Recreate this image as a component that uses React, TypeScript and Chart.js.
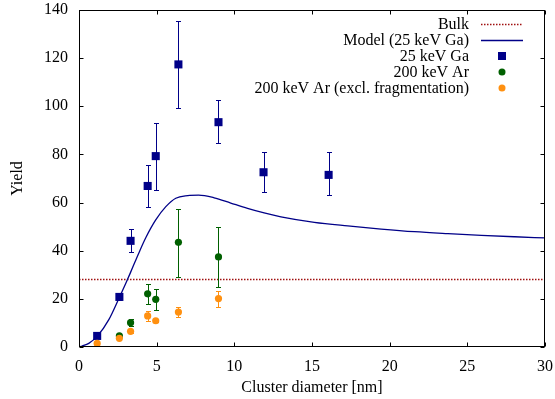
import React, { useEffect, useRef } from "react";
import { Chart, registerables } from "chart.js";

Chart.register(...registerables);

const xTicks = [0, 5, 10, 15, 20, 25, 30];
const yTicks = [0, 20, 40, 60, 80, 100, 120, 140];

const bulkLevel = 28;

const modelX = [0, 0.2, 0.63, 1.19, 1.93, 2.59, 3.0, 3.32, 3.86, 4.29, 4.94, 5.59, 6.23, 7.0, 7.7, 8.7, 9.77, 10.85, 11.92, 13.0, 15.15, 17.3, 19.45, 21.6, 23.75, 25.9, 28.05, 30];
const modelY = [0, 0.4, 1.5, 4.6, 11.5, 20.5, 26.3, 31.0, 39.2, 45.3, 52.8, 58.3, 61.8, 62.9, 63.1, 62.0, 59.8, 57.6, 55.7, 54.1, 51.8, 50.3, 49.0, 47.9, 47.1, 46.4, 45.8, 45.3];

const gaX = [1.17, 2.6, 3.32, 4.42, 4.94, 6.4, 8.98, 11.88, 16.07];
const gaY = [4.6, 20.8, 44.1, 66.9, 79.3, 117.4, 93.4, 72.6, 71.5];
const gaLo = [4.6, 19.5, 39.3, 58.2, 65.4, 99.2, 84.6, 64.2, 63.0];
const gaHi = [4.6, 22.2, 49.1, 75.5, 93.1, 135.4, 102.6, 81.0, 81.0];

const arX = [2.6, 3.32, 4.42, 4.94, 6.4, 8.98];
const arY = [4.6, 10.1, 22.1, 19.8, 43.5, 37.4];
const arLo = [4.0, 8.6, 17.9, 15.2, 29.2, 24.8];
const arHi = [5.2, 11.6, 26.3, 24.1, 57.4, 49.9];

const exX = [1.17, 2.6, 3.32, 4.42, 4.94, 6.4, 8.98];
const exY = [1.5, 3.6, 6.5, 12.9, 10.9, 14.5, 20.1];
const exLo = [1.0, 3.0, 5.8, 11.0, 10.2, 12.3, 16.7];
const exHi = [2.0, 4.2, 7.2, 14.8, 11.6, 16.7, 23.4];

const labels = ["Bulk", "Model (25 keV Ga)", "25 keV Ga", "200 keV Ar", "200 keV Ar (excl. fragmentation)"];

const C_BULK = "#a01010";
const C_GA = "#000088";
const C_AR = "#006000";
const C_EX = "#ff9010";

const FONT = "'Liberation Serif', 'DejaVu Serif', serif";
const FS = 16;

const pts = (xs: number[], ys: number[]) => xs.map((x, i) => ({ x, y: ys[i] }));

const errorSets: Record<number, { x: number[]; lo: number[]; hi: number[]; color: string }> = {
  2: { x: gaX, lo: gaLo, hi: gaHi, color: C_GA },
  3: { x: arX, lo: arLo, hi: arHi, color: C_AR },
  4: { x: exX, lo: exLo, hi: exHi, color: C_EX },
};

const errorBarPlugin = {
  id: "errorBars",
  beforeDatasetDraw(chart: any, args: any) {
    const e = errorSets[args.index];
    if (!e) return;
    const { ctx, scales } = chart;
    const xs = scales.x;
    const ys = scales.y;
    ctx.save();
    ctx.strokeStyle = e.color;
    ctx.lineWidth = 1;
    e.x.forEach((xv, i) => {
      if (e.hi[i] - e.lo[i] < 0.01) return;
      const px = Math.round(xs.getPixelForValue(xv)) + 0.5;
      const y1 = Math.round(ys.getPixelForValue(e.lo[i])) + 0.5;
      const y2 = Math.round(ys.getPixelForValue(e.hi[i])) + 0.5;
      ctx.beginPath();
      ctx.moveTo(px, y1);
      ctx.lineTo(px, y2);
      ctx.moveTo(px - 2.5, y1);
      ctx.lineTo(px + 2.5, y1);
      ctx.moveTo(px - 2.5, y2);
      ctx.lineTo(px + 2.5, y2);
      ctx.stroke();
    });
    ctx.restore();
  },
};

const framePlugin = {
  id: "frame",
  afterDraw(chart: any) {
    const { ctx, chartArea: a, scales } = chart;
    const L = Math.round(a.left) + 0.5;
    const R = Math.round(a.right) - 0.5;
    const T = Math.round(a.top) + 0.5;
    const B = Math.round(a.bottom) - 0.5;
    ctx.save();
    ctx.strokeStyle = "#000";
    ctx.lineWidth = 1;
    ctx.strokeRect(L, T, R - L, B - T);
    const tl = 4;
    ctx.beginPath();
    xTicks.forEach((v) => {
      const px = Math.round(scales.x.getPixelForValue(v)) + 0.5;
      ctx.moveTo(px, B);
      ctx.lineTo(px, B - tl);
      ctx.moveTo(px, T);
      ctx.lineTo(px, T + tl);
    });
    yTicks.forEach((v) => {
      const py = Math.round(scales.y.getPixelForValue(v)) + 0.5;
      ctx.moveTo(L, py);
      ctx.lineTo(L + tl, py);
      ctx.moveTo(R, py);
      ctx.lineTo(R - tl, py);
    });
    ctx.stroke();

    // legend
    const ds = chart.data.datasets;
    const textRight = 469;
    const sampleL = 481;
    const sampleR = 523;
    const symX = 502;
    const y0 = 24;
    const dy = 16;
    ctx.font = `${FS}px ${FONT}`;
    ctx.textAlign = "right";
    ctx.textBaseline = "middle";
    labels.forEach((lab, i) => {
      const y = y0 + i * dy;
      ctx.fillStyle = "#000";
      ctx.fillText(lab, textRight, y + 1);
      const d = ds[i];
      if (i < 2) {
        ctx.save();
        ctx.strokeStyle = d.borderColor;
        ctx.lineWidth = d.borderWidth;
        ctx.setLineDash(d.borderDash || []);
        ctx.beginPath();
        ctx.moveTo(sampleL, y + 0.5);
        ctx.lineTo(sampleR, y + 0.5);
        ctx.stroke();
        ctx.restore();
      } else {
        ctx.fillStyle = d.backgroundColor;
        if (d.pointStyle === "rect") {
          ctx.fillRect(symX - 4, y - 4, 8, 8);
        } else {
          ctx.beginPath();
          ctx.arc(symX, y, 3.5, 0, Math.PI * 2);
          ctx.fill();
        }
      }
    });
    ctx.restore();
  },
};

export default function App() {
  const ref = useRef<HTMLCanvasElement | null>(null);
  useEffect(() => {
    if (!ref.current) return;
    const chart = new Chart(ref.current, {
      type: "scatter",
      data: {
        datasets: [
          {
            label: labels[0],
            data: [{ x: 0, y: bulkLevel }, { x: 30, y: bulkLevel }],
            showLine: true,
            borderColor: C_BULK,
            borderWidth: 1.5,
            borderDash: [1.5, 1.5],
            pointRadius: 0,
            order: 4,
          } as any,
          {
            label: labels[1],
            data: pts(modelX, modelY),
            showLine: true,
            borderColor: C_GA,
            borderWidth: 1.3,
            pointRadius: 0,
            cubicInterpolationMode: "monotone",
            order: 3,
          },
          {
            label: labels[2],
            data: pts(gaX, gaY),
            pointStyle: "rect",
            pointRadius: 5.7,
            backgroundColor: C_GA,
            borderColor: C_GA,
            borderWidth: 0,
            order: 2,
          },
          {
            label: labels[3],
            data: pts(arX, arY),
            pointStyle: "circle",
            pointRadius: 3.6,
            backgroundColor: C_AR,
            borderColor: C_AR,
            borderWidth: 0,
            order: 1,
          },
          {
            label: labels[4],
            data: pts(exX, exY),
            pointStyle: "circle",
            pointRadius: 3.6,
            backgroundColor: C_EX,
            borderColor: C_EX,
            borderWidth: 0,
            order: 0,
          },
        ],
      },
      options: {
        responsive: false,
        animation: false,
        events: [],
        layout: { padding: { left: 0, right: 10, top: 10, bottom: 0 } },
        plugins: { legend: { display: false }, tooltip: { enabled: false } },
        scales: {
          x: {
            type: "linear",
            min: 0,
            max: 30,
            grid: { display: false },
            border: { display: false },
            afterBuildTicks: (s: any) => {
              s.ticks = xTicks.map((v) => ({ value: v }));
            },
            afterFit: (s: any) => {
              s.height = 52;
              s.paddingLeft = 0;
              s.paddingRight = 0;
            },
            ticks: {
              color: "#000",
              padding: 2.5,
              maxRotation: 0,
              font: { family: FONT, size: FS },
            },
            title: {
              display: true,
              text: "Cluster diameter [nm]",
              color: "#000",
              font: { family: FONT, size: FS },
              padding: { top: 0, bottom: 1.4 },
            },
          },
          y: {
            type: "linear",
            min: 0,
            max: 140,
            grid: { display: false },
            border: { display: false },
            afterBuildTicks: (s: any) => {
              s.ticks = yTicks.map((v) => ({ value: v }));
            },
            afterFit: (s: any) => {
              s.width = 79;
              s.paddingTop = 0;
              s.paddingBottom = 0;
            },
            ticks: {
              color: "#000",
              padding: 3,
              font: { family: FONT, size: FS },
            },
            title: {
              display: true,
              text: "Yield",
              color: "#000",
              font: { family: FONT, size: FS },
              padding: { top: 8, bottom: 0 },
            },
          },
        },
      },
      plugins: [errorBarPlugin, framePlugin],
    });
    return () => chart.destroy();
  }, []);
  return (
    <div style={{ position: "absolute", left: 0, top: 0, width: 555, height: 399, background: "#fff" }}>
      <canvas ref={ref} width={555} height={399} style={{ display: "block" }} />
    </div>
  );
}
